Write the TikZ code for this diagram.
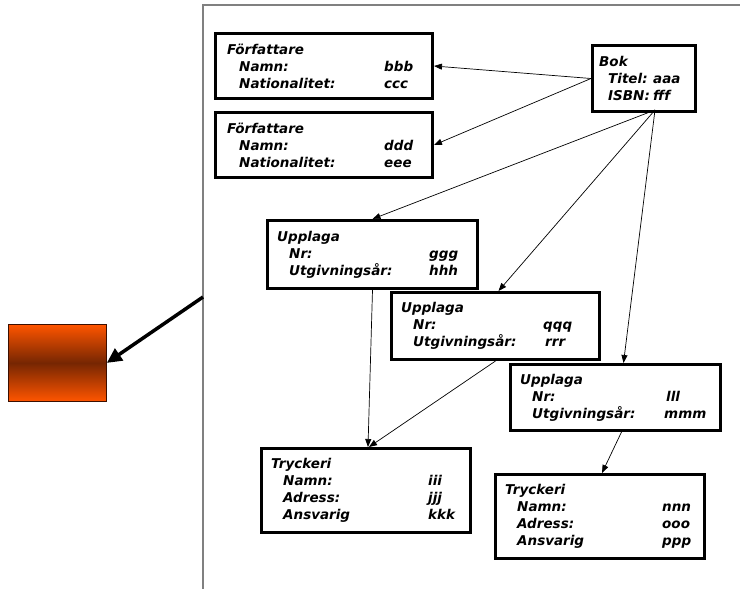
\documentclass[tikz,border=0pt]{standalone}
\usepackage{fontspec}
\setmainfont{DejaVu Sans}
\usetikzlibrary{arrows.meta}
\definecolor{frameg}{RGB}{128,128,128}
\definecolor{orA}{RGB}{255,85,0}
\definecolor{orB}{RGB}{118,38,2}
\definecolor{orEdge}{RGB}{60,15,0}
\tikzset{
  box/.style={draw, line width=3pt, anchor=north west, inner sep=0pt},
  txt/.style={anchor=west, align=left, inner sep=0pt,
    font=\fontsize{13.5}{17}\selectfont\bfseries\itshape},
  link/.style={-{Triangle[length=8pt,width=6pt]}, line width=0.7pt},
  bigarrow/.style={-{Triangle[length=15pt,width=14pt]}, line width=3.5pt},
  frame/.style={draw=frameg, line width=1.5pt},
}
\newcommand\rw[3]{\hspace*{12pt}\makebox[#1][l]{#2}#3}
\newcommand\rwb[3]{\hspace*{9pt}\makebox[#1][l]{#2}#3}
\begin{document}
\begin{tikzpicture}[x=1pt,y=-1pt]
\useasboundingbox (0,0) rectangle (740,589);
% frame
\coordinate (fa) at (203,589);
\coordinate (fb) at (203,5);
\coordinate (fc) at (741,5);
\draw[frame] (fa) -- (fb) -- (fc);

% boxes
\node[box, minimum width=217pt, minimum height=65pt] (f1) at (214,32) {};
\node[txt] (f1t) at ([xshift=13pt]f1.west) {F\"orfattare\\\rw{145pt}{Namn:}{bbb}\\\rw{145pt}{Nationalitet:}{ccc}};

\node[box, minimum width=217pt, minimum height=65pt] (f2) at (214,111) {};
\node[txt] (f2t) at ([xshift=13pt]f2.west) {F\"orfattare\\\rw{145pt}{Namn:}{ddd}\\\rw{145pt}{Nationalitet:}{eee}};

\node[box, minimum width=103pt, minimum height=66pt] (bok) at (591,44) {};
\node[txt] (bokt) at ([xshift=8pt]bok.west) {Bok\\\rwb{45pt}{Titel:}{aaa}\\\rwb{45pt}{ISBN:}{fff}};

\node[box, minimum width=210pt, minimum height=68pt] (u1) at (266,219) {};
\node[txt] (u1t) at ([xshift=11pt]u1.west) {Upplaga\\\rw{140pt}{Nr:}{ggg}\\\rw{140pt}{Utgivnings\aa r:}{hhh}};

\node[box, minimum width=208pt, minimum height=67pt] (u2) at (390,291) {};
\node[txt] (u2t) at ([xshift=11pt]u2.west) {Upplaga\\\rw{130pt}{Nr:}{qqq}\\\rw{132pt}{Utgivnings\aa r:}{rrr}};

\node[box, minimum width=210pt, minimum height=66pt] (u3) at (509,363) {};
\node[txt] (u3t) at ([xshift=11pt]u3.west) {Upplaga\\\rw{134pt}{Nr:}{lll}\\\rw{132pt}{Utgivnings\aa r:}{mmm}};

\node[box, minimum width=209pt, minimum height=84pt] (t1) at (260,447) {};
\node[txt] (t1t) at ([xshift=11pt]t1.west) {Tryckeri\\\rw{145pt}{Namn:}{iii}\\\rw{145pt}{Adress:}{jjj}\\\rw{145pt}{Ansvarig}{kkk}};

\node[box, minimum width=209pt, minimum height=84pt] (t2) at (494,473) {};
\node[txt] (t2t) at ([xshift=11pt]t2.west) {Tryckeri\\\rw{145pt}{Namn:}{nnn}\\\rw{145pt}{Adress:}{ooo}\\\rw{145pt}{Ansvarig}{ppp}};

% orange box
\node[draw=orEdge, line width=0.8pt, top color=orA, bottom color=orA, middle color=orB,
      minimum width=98pt, minimum height=77pt, anchor=north west, inner sep=0pt] (or) at (8,324) {};

% connectors
\coordinate (bs) at (655,110);
\draw[link] (bok.west) -- (f1.east);
\draw[link] (bok.west) -- (f2.east);
\draw[link] (bs) -- (u1.north);
\draw[link] (bs) -- ([xshift=3pt]u2.north);
\draw[link] (bs) -- ([xshift=8pt]u3.north);
\draw[link] (u1.south) -- ([xshift=2pt]t1.north);
\draw[link] (u2.south) -- ([xshift=3pt]t1.north);
\draw[link] ([xshift=6pt]u3.south) -- ([xshift=2pt]t2.north);
\coordinate (fs) at (203,297);
\draw[bigarrow] (fs) -- (or.east);
\end{tikzpicture}
\end{document}
